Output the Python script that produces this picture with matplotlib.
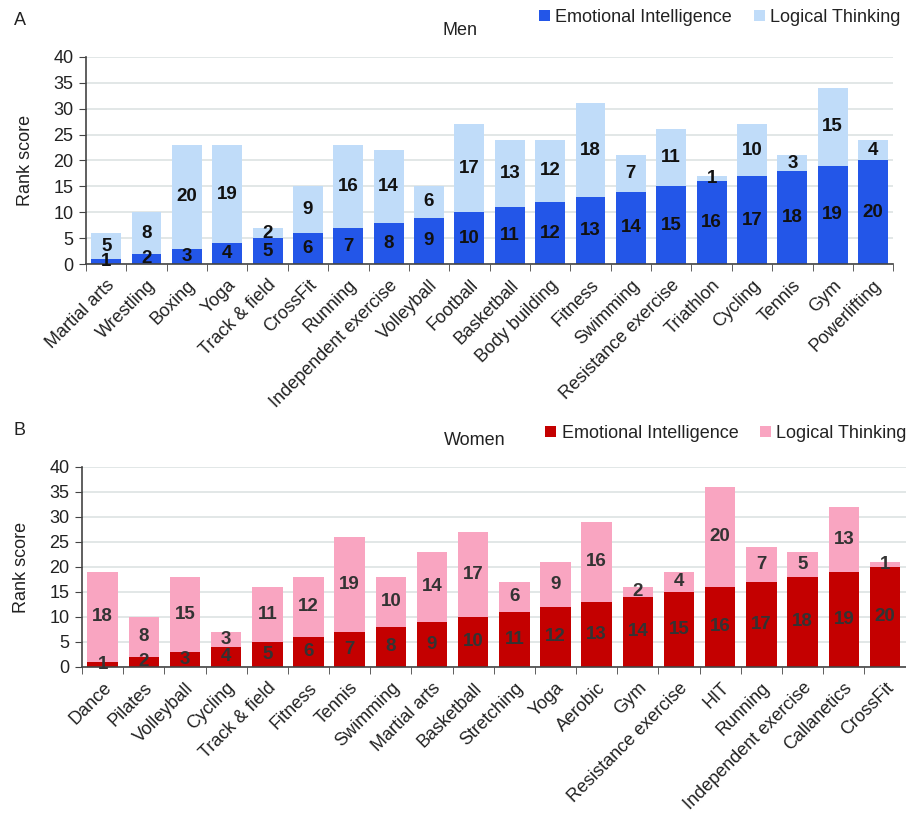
import matplotlib
matplotlib.use("Agg")
import matplotlib.pyplot as plt
import numpy as np

plt.rcParams['font.family'] = ['Liberation Sans', 'DejaVu Sans']

men_sports = ["Martial arts", "Wrestling", "Boxing", "Yoga", "Track & field", "CrossFit",
              "Running", "Independent exercise", "Volleyball", "Football", "Basketball",
              "Body building", "Fitness", "Swimming", "Resistance exercise", "Triathlon",
              "Cycling", "Tennis", "Gym", "Powerlifting"]
men_ei = [1, 2, 3, 4, 5, 6, 7, 8, 9, 10, 11, 12, 13, 14, 15, 16, 17, 18, 19, 20]
men_lt = [5, 8, 20, 19, 2, 9, 16, 14, 6, 17, 13, 12, 18, 7, 11, 1, 10, 3, 15, 4]

women_sports = ["Dance", "Pilates", "Volleyball", "Cycling", "Track & field", "Fitness",
                "Tennis", "Swimming", "Martial arts", "Basketball", "Stretching", "Yoga",
                "Aerobic", "Gym", "Resistance exercise", "HIT", "Running",
                "Independent exercise", "Callanetics", "CrossFit"]
women_ei = [1, 2, 3, 4, 5, 6, 7, 8, 9, 10, 11, 12, 13, 14, 15, 16, 17, 18, 19, 20]
women_lt = [18, 8, 15, 3, 11, 12, 19, 10, 14, 17, 6, 9, 16, 2, 4, 20, 7, 5, 13, 1]

yticks = [0, 5, 10, 15, 20, 25, 30, 35, 40]

fig = plt.figure(figsize=(9.06, 8.23), dpi=100)


def panel(rect, sports, ei, lt, c_ei, c_lt, label_color, title, title_x, letter, letter_y,
          legend_x, legend_y):
    ax = fig.add_axes(rect)
    x = np.arange(len(sports))
    ei = np.array(ei)
    lt = np.array(lt)
    ax.bar(x, ei, width=0.74, color=c_ei, zorder=2, label="Emotional Intelligence")
    ax.bar(x, lt, width=0.74, bottom=ei, color=c_lt, zorder=2, label="Logical Thinking")
    for xi, e, l in zip(x, ei, lt):
        ax.text(xi, e / 2, str(e), ha='center', va='center', fontsize=13.5,
                fontweight='bold', color=label_color, zorder=3)
        ax.text(xi, e + l / 2, str(l), ha='center', va='center', fontsize=13.5,
                fontweight='bold', color=label_color, zorder=3)
    ax.set_xlim(-0.5, len(sports) - 0.5)
    ax.set_ylim(0, 40)
    ax.set_yticks(yticks)
    ax.tick_params(axis='y', labelsize=13, length=5, colors='#444444', labelcolor='#222222',
                   pad=4)
    ax.set_xticks(x)
    ax.set_xticklabels(sports, rotation=45, ha='right', rotation_mode='anchor',
                       fontsize=13, color='#222222')
    ax.set_xticks(np.arange(len(sports) + 1) - 0.5, minor=True)
    ax.tick_params(axis='x', which='major', length=0, pad=9)
    ax.tick_params(axis='x', which='minor', length=5, color='#444444')
    ax.grid(axis='y', color='#dde3e3', linewidth=1.2, zorder=0)
    ax.set_axisbelow(True)
    for s in ['top', 'right']:
        ax.spines[s].set_visible(False)
    for s in ['left', 'bottom']:
        ax.spines[s].set_color('#444444')
        ax.spines[s].set_linewidth(1.2)
    ax.set_ylabel("Rank score", fontsize=13, color='#222222', labelpad=14)
    ax.set_title(title, fontsize=13, color='#222222', pad=16, x=title_x)
    fig.text(0.015, letter_y, letter, fontsize=13, color='#222222', va='center')
    leg = ax.legend(loc='lower right', bbox_to_anchor=(legend_x, legend_y), ncol=2,
                    frameon=False, fontsize=13, handlelength=0.6, handleheight=0.6,
                    handletextpad=0.3, columnspacing=1.2, borderaxespad=0)
    for t in leg.get_texts():
        t.set_color('#222222')
    return ax


panel([0.0949, 0.679, 0.891, 0.252], men_sports, men_ei, men_lt,
      '#2356e8', '#c0dcf9', '#111111', "Men", 0.463, "A", 0.975, 1.018, 1.115)
panel([0.0905, 0.1896, 0.909, 0.243], women_sports, women_ei, women_lt,
      '#c40000', '#f9a5c1', '#333333', "Women", 0.477, "B", 0.477, 1.01, 1.09)

fig.savefig("out.png", dpi=100, facecolor='white')
